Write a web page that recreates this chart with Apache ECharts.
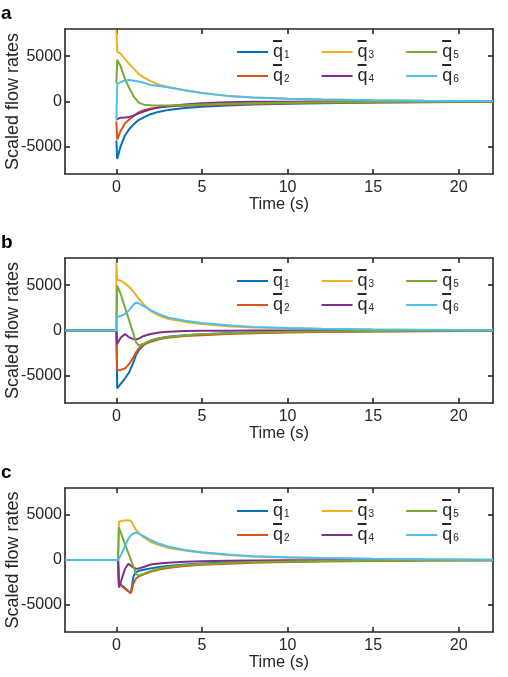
<!DOCTYPE html>
<html>
<head>
<meta charset="utf-8">
<script src="https://cdn.jsdelivr.net/npm/echarts@6/dist/echarts.min.js"></script>
<style>
  html, body { margin: 0; padding: 0; background: #fff; }
  #chart { width: 508px; height: 677px; }
</style>
</head>
<body>
<div id="chart"></div>
<script>
// tick labels
const xTicks = [0, 5, 10, 15, 20]
const yTicks = [-5000, 0, 5000]
const seriesNames = ['q1', 'q2', 'q3', 'q4', 'q5', 'q6']
const colors = ['#0072BD', '#D95319', '#EDB120', '#7E2F8E', '#77AC30', '#4DBEEE']

// panel a
const tA = [0, 0.05, 0.25, 0.5, 0.75, 1, 1.3, 1.6, 2, 2.5, 3, 3.5, 4, 5, 6.5, 8, 10, 12, 15, 18, 22]
const q1A = [-4300, -6350, -4950, -3750, -3050, -2550, -2050, -1750, -1400, -1120, -950, -820, -730, -590, -440, -340, -250, -180, -110, -70, -40]
const q2A = [-2200, -4200, -3250, -2430, -1980, -1620, -1200, -960, -760, -620, -540, -500, -470, -410, -330, -270, -200, -150, -100, -60, -40]
const q3A = [7900, 5500, 5250, 4700, 4150, 3650, 3050, 2650, 2250, 1850, 1600, 1400, 1230, 950, 620, 430, 300, 210, 130, 80, 50]
const q4A = [-2000, -1800, -1780, -1760, -1700, -1560, -1300, -1100, -870, -650, -520, -420, -340, -200, -70, -30, -20, -10, -5, 0, 0]
const q5A = [2000, 4600, 3900, 2500, 1500, 600, -120, -350, -420, -450, -440, -420, -400, -340, -250, -190, -130, -90, -60, -40, -20]
const q6A = [-2100, 1900, 2150, 2300, 2360, 2300, 2200, 2080, 1820, 1700, 1580, 1420, 1250, 950, 620, 430, 300, 210, 130, 80, 50]

// panel b
const tB = [-3, 0, 0, 0.05, 0.25, 0.5, 0.75, 1, 1.15, 1.3, 1.6, 2, 2.5, 3, 4, 5, 6.5, 8, 10, 12, 15, 18, 22]
const q1B = [0, 0, 0, -6400, -5900, -5300, -4600, -3500, -2700, -2200, -1600, -1100, -850, -700, -520, -400, -300, -230, -170, -120, -80, -50, -30]
const q2B = [0, 0, 0, -4400, -4350, -4200, -3700, -2950, -2400, -2000, -1550, -1250, -980, -810, -620, -520, -400, -310, -230, -170, -110, -70, -40]
const q3B = [0, 0, 7500, 5600, 5500, 5200, 4800, 4300, 3900, 3500, 2900, 2150, 1650, 1300, 950, 720, 480, 340, 240, 170, 100, 60, 30]
const q4B = [0, 0, 0, -1500, -800, -400, -750, -960, -1000, -900, -600, -380, -220, -130, -60, -30, -20, -10, -5, 0, 0, 0, 0]
const q5B = [0, 0, 0, 4950, 4050, 2550, 1100, -400, -1300, -1650, -1450, -1100, -880, -720, -520, -400, -290, -210, -150, -100, -60, -40, -20]
const q6B = [0, 0, 0, 1500, 1600, 1800, 2250, 2850, 3100, 3000, 2700, 2250, 1800, 1450, 1080, 830, 570, 400, 280, 190, 110, 70, 35]

// panel c
const tC = [-3, 0.1, 0.15, 0.3, 0.5, 0.7, 0.85, 1, 1.15, 1.3, 1.6, 2, 2.5, 3, 4, 5, 6.5, 8, 10, 12, 15, 18, 22]
const q1C = [0, 0, -2500, -2800, -3100, -3450, -3650, -1800, -1350, -1200, -1080, -930, -780, -660, -500, -390, -290, -220, -160, -110, -70, -40, -20]
const q2C = [0, 0, -2600, -2900, -3200, -3500, -3700, -2600, -2050, -1850, -1600, -1300, -1050, -880, -680, -540, -410, -310, -220, -160, -100, -60, -30]
const q3C = [0, 0, 4250, 4350, 4400, 4420, 4350, 3800, 3350, 3000, 2500, 2000, 1650, 1370, 1050, 800, 560, 400, 280, 200, 120, 80, 40]
const q4C = [0, 0, -3050, -2200, -1000, -420, -620, -850, -970, -930, -780, -500, -380, -300, -200, -140, -90, -60, -40, -25, -15, -10, -5]
const q5C = [0, 0, 3600, 2820, 1800, 780, 10, -760, -1530, -1720, -1550, -1220, -950, -780, -560, -440, -320, -230, -160, -110, -70, -40, -20]
const q6C = [0, 0, 200, 650, 1550, 2350, 2750, 2950, 3030, 2950, 2650, 2220, 1800, 1500, 1120, 870, 620, 430, 300, 210, 130, 80, 40]

const panels = [
  { label: 'a', t: tA, q: [q1A, q2A, q3A, q4A, q5A, q6A], top: 29, height: 145 },
  { label: 'b', t: tB, q: [q1B, q2B, q3B, q4B, q5B, q6B], top: 258, height: 145 },
  { label: 'c', t: tC, q: [q1C, q2C, q3C, q4C, q5C, q6C], top: 488, height: 144 }
]

const ink = '#262626'
const font = 'Liberation Sans, Arial, Helvetica, sans-serif'
const frame = { color: ink, width: 1.6 }

const chart = echarts.init(document.getElementById('chart'))

const grids = []
const xAxes = []
const yAxes = []
const series = []
const legends = []
const graphics = []

panels.forEach((p, i) => {
  grids.push({ left: 65, top: p.top, width: 428, height: p.height, outerBoundsMode: 'none', containLabel: false })
  const xBase = {
    type: 'value', gridIndex: i, min: -3, max: 22,
    axisLine: { onZero: false, lineStyle: frame },
    axisTick: { inside: true, length: 5, customValues: xTicks, lineStyle: frame },
    splitLine: { show: false }
  }
  xAxes.push(Object.assign({}, xBase, {
    position: 'bottom',
    name: 'Time (s)', nameLocation: 'middle', nameGap: 22, nameMoveOverlap: false,
    nameTextStyle: { fontSize: 16.5, color: ink, fontFamily: font, verticalAlign: 'top' },
    axisLabel: { customValues: xTicks, fontSize: 16, color: ink, fontFamily: font, margin: 6, formatter: v => String(v) }
  }))
  xAxes.push(Object.assign({}, xBase, { position: 'top', axisLabel: { show: false } }))
  const yBase = {
    type: 'value', gridIndex: i, min: -8000, max: 8000,
    axisLine: { onZero: false, lineStyle: frame },
    axisTick: { inside: true, length: 5, customValues: yTicks, lineStyle: frame },
    splitLine: { show: false }
  }
  yAxes.push(Object.assign({}, yBase, {
    position: 'left',
    name: 'Scaled flow rates', nameLocation: 'middle', nameGap: 43, nameMoveOverlap: false,
    nameTextStyle: { fontSize: 18, color: ink, fontFamily: font },
    axisLabel: { customValues: yTicks, fontSize: 16, color: ink, fontFamily: font, margin: 3, formatter: v => String(v) }
  }))
  yAxes.push(Object.assign({}, yBase, { position: 'right', axisLabel: { show: false } }))

  p.q.forEach((vals, k) => {
    series.push({
      name: seriesNames[k],
      type: 'line',
      xAxisIndex: 2 * i,
      yAxisIndex: 2 * i,
      data: p.t.map((x, j) => [x, vals[j]]),
      showSymbol: false,
      symbol: 'none',
      color: colors[k],
      lineStyle: { width: 2, color: colors[k] },
      animation: false
    })
  })

  const legendBase = {
    left: 237, icon: 'rect', itemWidth: 31, itemHeight: 2, itemGap: 32, padding: 0,
    selectedMode: false,
    formatter: name => '{bar| }\n{q|q}{s|' + name.slice(1) + '}',
    textStyle: {
      color: ink, fontFamily: font, padding: [0, 0, 6, 0],
      rich: {
        bar: { width: 9, height: 2, lineHeight: 6, backgroundColor: ink, fontSize: 2 },
        q: { fontSize: 18, lineHeight: 16, color: ink, fontFamily: font },
        s: { fontSize: 10, lineHeight: 10, verticalAlign: 'bottom', color: ink, fontFamily: font, padding: [9, 0, 0, 1] }
      }
    }
  }
  legends.push(Object.assign({}, legendBase, { data: ['q1', 'q3', 'q5'], top: p.top + 11 }))
  legends.push(Object.assign({}, legendBase, { data: ['q2', 'q4', 'q6'], top: p.top + 35 }))

  graphics.push({
    type: 'text', left: 1, top: p.top - 25,
    style: { text: p.label, font: 'bold 19px ' + font, fill: '#000' }
  })
})

chart.setOption({
  animation: false,
  grid: grids,
  xAxis: xAxes,
  yAxis: yAxes,
  legend: legends,
  graphic: graphics,
  series: series
})
</script>
</body>
</html>
